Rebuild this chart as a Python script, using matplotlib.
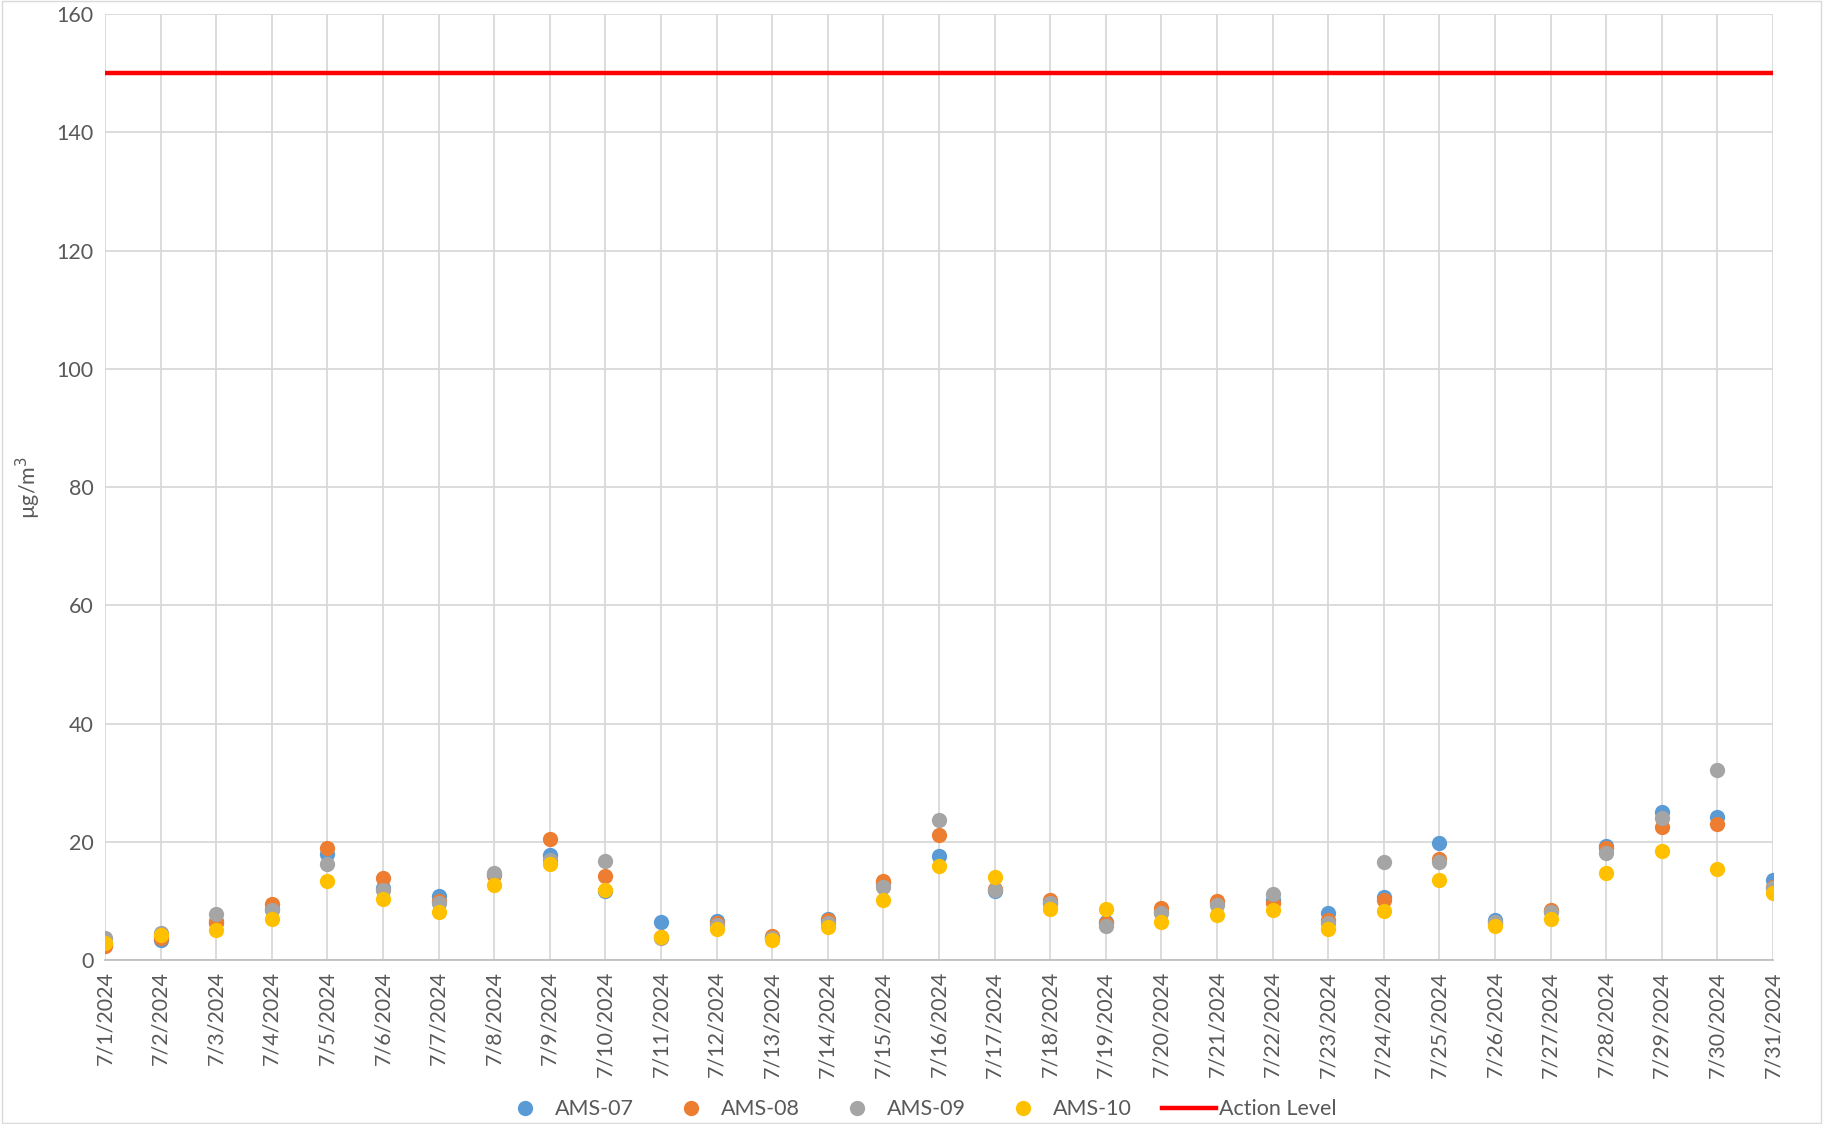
import numpy as np
import matplotlib.pyplot as plt

plt.rcParams['font.family'] = ['Lato', 'DejaVu Sans']

dates = ['7/%d/2024' % d for d in range(1, 32)]

ams07 = [2.7, 3.4, 6.2, 8.7, 18.0, 12.1, 10.8, 14.5, 17.8, 11.6,
         6.5, 6.6, 3.8, 6.9, 13.0, 17.6, 11.6, 9.7, 6.5, 8.2,
         9.6, 10.1, 8.0, 10.6, 19.8, 6.8, 8.3, 19.3, 25.0, 24.2, 13.5]
ams08 = [2.4, 3.8, 6.6, 9.4, 19.0, 13.8, 10.0, 14.4, 20.4, 14.2,
         3.9, 6.3, 4.1, 6.8, 13.4, 21.1, 12.0, 10.1, 6.3, 8.8,
         9.9, 9.6, 6.8, 10.1, 17.1, 6.3, 8.5, 19.0, 22.5, 23.0, 12.4]
ams09 = [3.8, 4.6, 7.7, 8.5, 16.2, 11.8, 9.6, 14.8, 17.0, 16.8,
         3.7, 5.9, 3.7, 6.3, 12.4, 23.6, 11.8, 9.6, 5.8, 7.9,
         9.3, 11.1, 6.2, 16.5, 16.5, 6.5, 8.1, 18.1, 24.1, 32.2, 12.1]
ams10 = [2.8, 4.2, 5.1, 7.0, 13.4, 10.3, 8.1, 12.7, 16.2, 11.9,
         3.9, 5.2, 3.3, 5.5, 10.1, 15.9, 14.0, 8.6, 8.6, 6.5,
         7.6, 8.5, 5.2, 8.3, 13.5, 5.7, 6.9, 14.8, 18.5, 15.4, 11.3]
action_level = 150

series = [('AMS-07', ams07, '#5B9BD5'),
          ('AMS-08', ams08, '#ED7D31'),
          ('AMS-09', ams09, '#A5A5A5'),
          ('AMS-10', ams10, '#FFC000')]

fig = plt.figure(figsize=(18.23, 11.24), dpi=100)
ax = fig.add_axes([0.0576, 0.1459, 0.915, 0.8416])

x = np.arange(len(dates))
for name, vals, col in series:
    ax.plot(x, vals, linestyle='none', marker='o', markersize=11,
            color=col, markeredgewidth=0, label=name, zorder=3)
ax.plot(x, [action_level] * len(x), color='#FF0000', linewidth=3.2,
        label='Action Level', zorder=2)

ax.set_xlim(0, len(dates) - 1)
ax.set_ylim(0, 160)
ax.set_yticks(range(0, 161, 20))
ax.set_xticks(x)
ax.set_xticklabels(dates, rotation=90)
ax.tick_params(axis='both', length=0, labelsize=15.5, colors='#595959', pad=8)
ax.grid(True, color='#D9D9D9', linewidth=1.3, zorder=0)
ax.set_axisbelow(True)
for s in ['top', 'right', 'left']:
    ax.spines[s].set_visible(False)
ax.spines['bottom'].set_color('#BFBFBF')
ax.spines['bottom'].set_linewidth(1.3)

ax.set_ylabel('µg/m$^{3}$', fontsize=15.5, color='#595959', labelpad=10)

ax.legend(loc='lower center', bbox_to_anchor=(0.487, -0.189), ncol=5,
          frameon=False, fontsize=15.5, labelcolor='#595959',
          handletextpad=0.15, columnspacing=1.4, handlelength=2.5)

fig.patches.append(plt.Rectangle((0.001, 0.001), 0.998, 0.998,
                                 transform=fig.transFigure, fill=False,
                                 edgecolor='#D9D9D9', linewidth=1))

plt.savefig('out.png', dpi=100)
